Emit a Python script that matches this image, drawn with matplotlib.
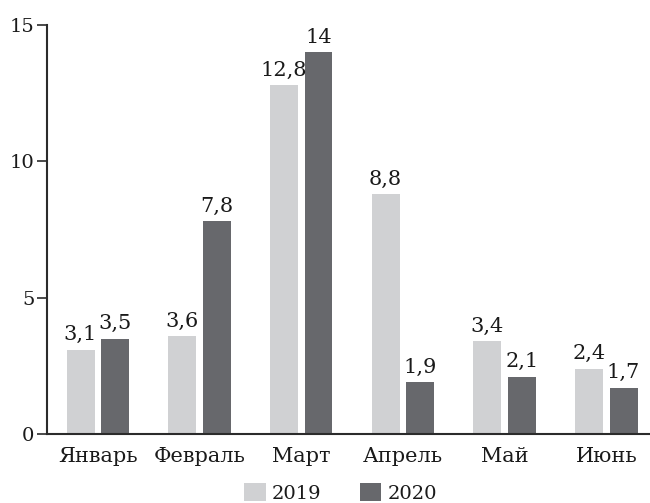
import matplotlib
matplotlib.use("Agg")
import matplotlib.pyplot as plt
import numpy as np
from matplotlib.patches import Patch

months = ["Январь", "Февраль", "Март", "Апрель", "Май", "Июнь"]
values_2019 = [3.1, 3.6, 12.8, 8.8, 3.4, 2.4]
values_2020 = [3.5, 7.8, 14.0, 1.9, 2.1, 1.7]
series_names = ["2019", "2020"]
y_ticks = [0, 5, 10, 15]

color_2019 = "#d0d1d3"
color_2020 = "#67686c"
axis_color = "#2b2b2b"
text_color = "#1a1a1a"

plt.rcParams["font.family"] = ["DejaVu Serif"]
plt.rcParams["font.size"] = 14

fig = plt.figure(figsize=(6.5, 5.03), dpi=100)
ax = fig.add_axes([0.0723, 0.137, 0.9277, 0.813])

x = np.arange(len(months))
width = 0.275
offset = 0.17

bars1 = ax.bar(x - offset, values_2019, width, color=color_2019)
bars2 = ax.bar(x + offset, values_2020, width, color=color_2020)


def fmt(v):
    s = f"{v:.1f}".rstrip("0").rstrip(".")
    return s.replace(".", ",")


for bars, vals in ((bars1, values_2019), (bars2, values_2020)):
    for b, v in zip(bars, vals):
        ax.text(b.get_x() + b.get_width() / 2, v + 0.2, fmt(v),
                ha="center", va="bottom", fontsize=15, color=text_color)

ax.set_xlim(-0.5, 5.43)
ax.set_ylim(0, 15)
ax.set_yticks(y_ticks)
ax.set_yticklabels([str(t) for t in y_ticks], fontsize=14)
ax.set_xticks(x)
ax.set_xticklabels(months, fontsize=15)

for side in ("top", "right"):
    ax.spines[side].set_visible(False)
for side in ("left", "bottom"):
    ax.spines[side].set_color(axis_color)
    ax.spines[side].set_linewidth(1.5)

ax.tick_params(axis="y", direction="out", length=7, width=1.2,
               color=axis_color, pad=2, labelcolor=text_color)
ax.tick_params(axis="x", length=0, pad=9, labelcolor=text_color)

handles = [Patch(facecolor=color_2019), Patch(facecolor=color_2020)]
fig.legend(handles, series_names, loc="lower center", ncol=2, frameon=False,
           bbox_to_anchor=(0.524, -0.034), handlelength=1.1, handleheight=1.1,
           handletextpad=0.3, columnspacing=2.0, fontsize=14,
           labelcolor=text_color)

fig.savefig("out.png", dpi=100)
